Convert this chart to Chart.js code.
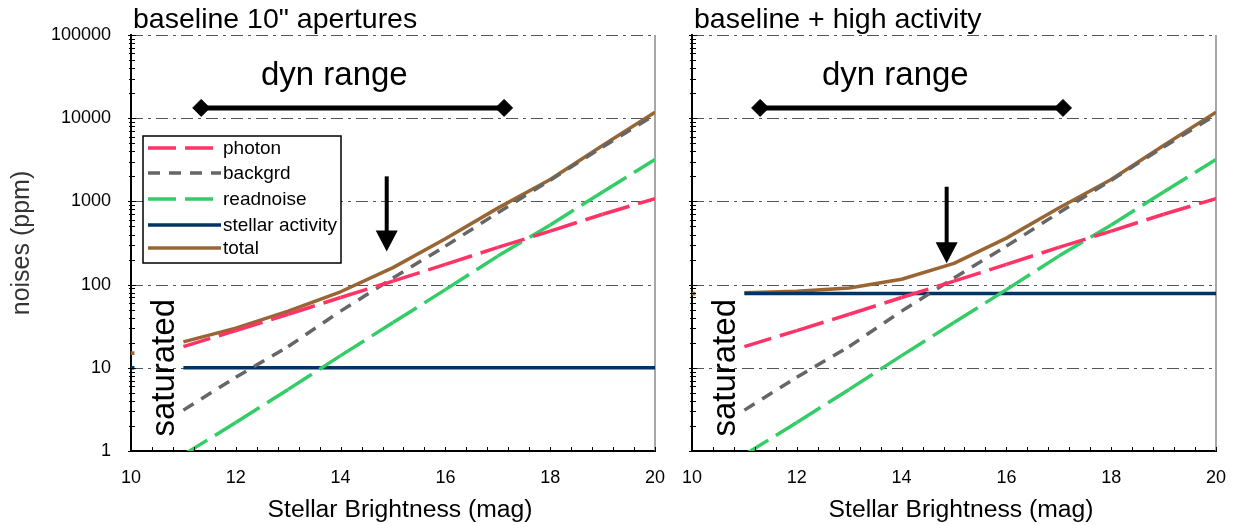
<!DOCTYPE html>
<html><head><meta charset="utf-8">
<script src="https://cdn.jsdelivr.net/npm/chart.js@4.4.1/dist/chart.umd.min.js"></script>
<style>
html,body{margin:0;padding:0;background:#fff;overflow:hidden;width:1233px;height:525px}
#c1{position:absolute;left:0;top:0;width:672px;height:525px}
#c2{position:absolute;left:672px;top:0;width:561px;height:525px}
</style></head><body>
<canvas id="c1" width="672" height="525"></canvas>
<canvas id="c2" width="561" height="525"></canvas>
<script>
// ---------- data ----------
const mags = [11, 12, 13, 14, 15, 16, 17, 18, 19, 20];
const photon = [18, 28, 44, 70, 110, 175, 280, 440, 700, 1080];
const backgrd = [3.1, 7.7, 18, 48, 120, 290, 730, 1800, 4500, 11000];
const readnoise = [0.9, 2.2, 5.5, 14, 35, 87, 220, 520, 1300, 3200];
const activityLeft = [10, 10, 10, 10, 10, 10, 10, 10, 10, 10];
const totalLeft = [20.5, 30, 48, 82, 160, 355, 830, 1830, 4700, 11800];
const activityRight = [78, 78, 78, 78, 78, 78, 78, 78, 78, 78];
const totalRight = [80, 83, 91, 116, 180, 362, 835, 1830, 4700, 11800];
const edgeMag = [10.03];
const edgeTotalLeft = [15];
const edgeActivityLeft = [10];
const edgeTotalRight = [78];
const dynRangeLeft = [11.34, 17.12];
const dynRangeRight = [11.30, 17.08];
const dynLevel = [13300, 13300];
const arrowLeft = {mag: 14.88, from: 2000, to: 250};
const arrowRight = {mag: 14.86, from: 1500, to: 180};
const xTicks = [10, 12, 14, 16, 18, 20];
const xTickLabels = ['10', '12', '14', '16', '18', '20'];
const yTicks = [1, 10, 100, 1000, 10000, 100000];
const yTickLabels = ['1', '10', '100', '1000', '10000', '100000'];
const seriesNames = ['photon', 'backgrd', 'readnoise', 'stellar activity', 'total'];
const titles = ['baseline 10" apertures', 'baseline + high activity'];
const xTitle = 'Stellar Brightness (mag)';
const yTitle = 'noises (ppm)';

// ---------- styles ----------
const FONT = "'Liberation Sans', Arial, Helvetica, sans-serif";
const STY = [
  {color: '#ff3366', dash: [28, 9]},
  {color: '#666666', dash: [12, 9]},
  {color: '#33cc66', dash: [28, 9]},
  {color: '#003366', dash: []},
  {color: '#996633', dash: []}
];
const LW = 3.5;

function series(label, ys, st) {
  const d = {
    label, data: mags.map((x, i) => ({x, y: ys[i]})),
    showLine: true, borderColor: st.color, backgroundColor: st.color,
    borderWidth: LW, borderDash: st.dash, pointRadius: 0, pointHoverRadius: 0,
    tension: 0, borderCapStyle: 'butt', borderJoinStyle: 'round', fill: false
  };
  if (st.dash.length) d.segment = {borderDashOffset: c => c.p0DataIndex * 0.001};
  return d;
}
function edge(ys, color) {
  return {label: 'edge', data: edgeMag.map((x, i) => ({x, y: ys[i]})), showLine: false,
    pointStyle: 'rect', pointRadius: 2.6, backgroundColor: color, borderColor: color,
    pointBorderWidth: 0, clip: false};
}
function dyn(xs) {
  return {label: 'dyn', data: xs.map((x, i) => ({x, y: dynLevel[i]})), showLine: true,
    borderColor: '#000', backgroundColor: '#000', borderWidth: 5, pointStyle: 'rectRot',
    pointRadius: 8.5, pointBorderWidth: 1, pointBackgroundColor: '#000', pointBorderColor: '#000'};
}

function decor(idx, arrow) {
  return {
    id: 'decor' + idx,
    beforeDatasetsDraw(chart) {
      const {ctx, chartArea: a, scales: {x, y}} = chart;
      ctx.save();
      ctx.strokeStyle = '#555'; ctx.lineWidth = 1; ctx.setLineDash([12, 5, 3, 5]);
      yTicks.slice(1).forEach(v => {
        const py = Math.round(y.getPixelForValue(v)) + 0.5;
        ctx.beginPath(); ctx.moveTo(a.left, py); ctx.lineTo(a.right, py); ctx.stroke();
      });
      ctx.setLineDash([]);
      ctx.strokeStyle = '#8a8a8a'; ctx.lineWidth = 1.5;
      ctx.beginPath(); ctx.moveTo(a.right, a.top); ctx.lineTo(a.right, a.bottom); ctx.stroke();
      ctx.restore();
    },
    afterDraw(chart) {
      const {ctx, chartArea: a, scales: {x, y}} = chart;
      ctx.save();
      ctx.strokeStyle = '#000'; ctx.lineWidth = 1;
      for (let n = 0; n < 5; n++) {
        for (let k = 1; k <= 9; k++) {
          const py = Math.round(y.getPixelForValue(k * Math.pow(10, n))) + 0.5;
          ctx.beginPath();
          ctx.moveTo(a.left - (k === 1 ? 3 : 2), py); ctx.lineTo(a.left + (k === 1 ? 5 : 4), py); ctx.stroke();
        }
      }
      const pt = Math.round(y.getPixelForValue(100000)) + 0.5;
      ctx.beginPath(); ctx.moveTo(a.left - 3, pt); ctx.lineTo(a.left + 5, pt); ctx.stroke();
      for (let i = 0; i <= 25; i++) {
        const px = Math.round(x.getPixelForValue(10 + 0.4 * i)) + 0.5;
        ctx.beginPath(); ctx.moveTo(px, a.bottom - 4); ctx.lineTo(px, a.bottom + 1); ctx.stroke();
      }
      ctx.fillStyle = '#000';
      // panel title
      ctx.font = '28.5px ' + FONT; ctx.textAlign = 'left'; ctx.textBaseline = 'alphabetic';
      ctx.fillText(titles[idx], a.left + 2, 28);
      // x axis title
      ctx.font = '24.7px ' + FONT; ctx.textAlign = 'center'; ctx.textBaseline = 'middle';
      ctx.fillText(xTitle, (a.left + a.right) / 2 + 7, 510);
      // dyn range text
      ctx.font = '33px ' + FONT; ctx.textAlign = 'center'; ctx.textBaseline = 'alphabetic';
      ctx.fillText('dyn range', x.getPixelForValue(13.88), y.getPixelForValue(25000));
      // saturated
      ctx.save();
      ctx.translate(x.getPixelForValue(10.82), y.getPixelForValue(10));
      ctx.rotate(-Math.PI / 2);
      ctx.font = '33px ' + FONT; ctx.textAlign = 'center'; ctx.textBaseline = 'alphabetic';
      ctx.fillText('saturated', 0, 0);
      ctx.restore();
      // arrow
      const ax = x.getPixelForValue(arrow.mag);
      const y0 = y.getPixelForValue(arrow.from), y1 = y.getPixelForValue(arrow.to);
      ctx.strokeStyle = '#000'; ctx.lineWidth = 4;
      ctx.beginPath(); ctx.moveTo(ax, y0); ctx.lineTo(ax, y1 - 18); ctx.stroke();
      ctx.beginPath(); ctx.moveTo(ax - 11, y1 - 21); ctx.lineTo(ax + 11, y1 - 21); ctx.lineTo(ax, y1); ctx.closePath(); ctx.fill();
      // legend
      if (idx === 0) {
        const L = 143, T = 136, R = 341, B = 263;
        ctx.fillStyle = '#fff'; ctx.fillRect(L, T, R - L, B - T);
        ctx.strokeStyle = '#000'; ctx.lineWidth = 1.5; ctx.strokeRect(L, T, R - L, B - T);
        const rows = [148, 173, 199, 225, 248];
        seriesNames.forEach((nm, i) => {
          ctx.strokeStyle = STY[i].color; ctx.lineWidth = LW; ctx.setLineDash(STY[i].dash);
          ctx.beginPath(); ctx.moveTo(148, rows[i]); ctx.lineTo(221, rows[i]); ctx.stroke();
          ctx.setLineDash([]);
          ctx.fillStyle = '#000'; ctx.font = '19px ' + FONT; ctx.textAlign = 'left'; ctx.textBaseline = 'middle';
          ctx.fillText(nm, 223, rows[i] + 1);
        });
      }
      ctx.restore();
    }
  };
}

function makeChart(el, idx) {
  const left = idx === 0;
  const datasets = [
    series(seriesNames[0], photon, STY[0]),
    series(seriesNames[1], backgrd, STY[1]),
    series(seriesNames[2], readnoise, STY[2]),
    series(seriesNames[3], left ? activityLeft : activityRight, STY[3]),
    series(seriesNames[4], left ? totalLeft : totalRight, STY[4])
  ];
  if (left) { datasets.push(edge(edgeActivityLeft, STY[3].color)); datasets.push(edge(edgeTotalLeft, STY[4].color)); }
  else { datasets.push(edge(edgeTotalRight, STY[4].color)); }
  datasets.push(dyn(left ? dynRangeLeft : dynRangeRight));
  return new Chart(el, {
    type: 'scatter',
    data: {datasets},
    options: {
      responsive: false, animation: false, devicePixelRatio: 1, events: [],
      layout: {padding: {top: 35, right: 17, left: 0, bottom: 0}},
      plugins: {legend: {display: false}, tooltip: {enabled: false}, title: {display: false}},
      scales: {
        x: {
          type: 'linear', min: 10, max: 20,
          afterBuildTicks: s => { s.ticks = xTicks.map(v => ({value: v})); },
          afterFit: s => { s.height = 74; s.paddingLeft = 0; s.paddingRight = 0; },
          grid: {display: false, drawTicks: false},
          border: {display: true, color: '#000', width: 2},
          ticks: {padding: 16, color: '#000', font: {family: FONT, size: 18}, maxRotation: 0, autoSkip: false,
            callback: (v, i) => xTickLabels[i]},
          title: {display: false}
        },
        y: {
          type: 'logarithmic', min: 1, max: 100000,
          afterBuildTicks: s => { s.ticks = yTicks.map(v => ({value: v})); },
          afterFit: s => { s.width = left ? 131 : 20; s.paddingTop = 0; s.paddingBottom = 0; },
          grid: {display: false, drawTicks: false},
          border: {display: true, color: '#000', width: 2},
          ticks: {display: left, padding: 20, color: '#000', font: {family: FONT, size: 18}, autoSkip: false,
            callback: (v, i) => yTickLabels[i]},
          title: {display: left, text: yTitle, color: '#333',
            font: {family: FONT, size: 25}, padding: {top: 7, bottom: 0}}
        }
      }
    },
    plugins: [decor(idx, left ? arrowLeft : arrowRight)]
  });
}
makeChart(document.getElementById('c1'), 0);
makeChart(document.getElementById('c2'), 1);
</script>
</body></html>
